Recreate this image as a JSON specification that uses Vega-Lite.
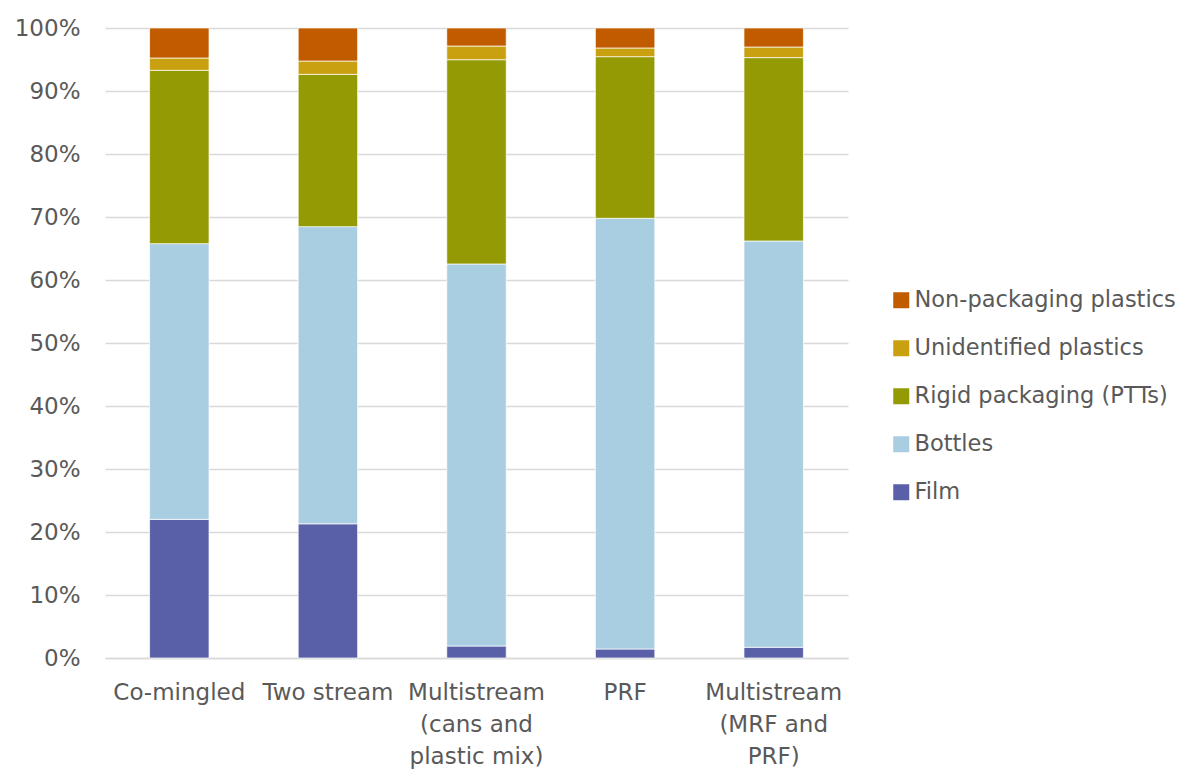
{
  "$schema": "https://vega.github.io/schema/vega-lite/v6.json",
  "width": 743,
  "height": 630,
  "autosize": {"type": "none"},
  "padding": {"left": 105, "top": 28, "right": 338, "bottom": 113},
  "background": "white",
  "config": {
    "view": {"stroke": null},
    "font": "DejaVu Sans",
    "axis": {"labelFont": "DejaVu Sans", "labelColor": "#595959", "labelFontSize": 23},
    "legend": {"labelFont": "DejaVu Sans"}
  },
  "data": {
    "values": [
      {"Facility": "Co-mingled", "Type": "Film", "Share": 0.220},
      {"Facility": "Co-mingled", "Type": "Bottles", "Share": 0.4377},
      {"Facility": "Co-mingled", "Type": "Rigid packaging (PTTs)", "Share": 0.2751},
      {"Facility": "Co-mingled", "Type": "Unidentified plastics", "Share": 0.0196},
      {"Facility": "Co-mingled", "Type": "Non-packaging plastics", "Share": 0.0476},
      {"Facility": "Two stream", "Type": "Film", "Share": 0.213},
      {"Facility": "Two stream", "Type": "Bottles", "Share": 0.4717},
      {"Facility": "Two stream", "Type": "Rigid packaging (PTTs)", "Share": 0.2417},
      {"Facility": "Two stream", "Type": "Unidentified plastics", "Share": 0.0212},
      {"Facility": "Two stream", "Type": "Non-packaging plastics", "Share": 0.0524},
      {"Facility": "Multistream (cans and plastic mix)", "Type": "Film", "Share": 0.019},
      {"Facility": "Multistream (cans and plastic mix)", "Type": "Bottles", "Share": 0.6064},
      {"Facility": "Multistream (cans and plastic mix)", "Type": "Rigid packaging (PTTs)", "Share": 0.3243},
      {"Facility": "Multistream (cans and plastic mix)", "Type": "Unidentified plastics", "Share": 0.0217},
      {"Facility": "Multistream (cans and plastic mix)", "Type": "Non-packaging plastics", "Share": 0.0286},
      {"Facility": "PRF", "Type": "Film", "Share": 0.0143},
      {"Facility": "PRF", "Type": "Bottles", "Share": 0.6836},
      {"Facility": "PRF", "Type": "Rigid packaging (PTTs)", "Share": 0.2566},
      {"Facility": "PRF", "Type": "Unidentified plastics", "Share": 0.0138},
      {"Facility": "PRF", "Type": "Non-packaging plastics", "Share": 0.0317},
      {"Facility": "Multistream (MRF and PRF)", "Type": "Film", "Share": 0.017},
      {"Facility": "Multistream (MRF and PRF)", "Type": "Bottles", "Share": 0.6449},
      {"Facility": "Multistream (MRF and PRF)", "Type": "Rigid packaging (PTTs)", "Share": 0.2911},
      {"Facility": "Multistream (MRF and PRF)", "Type": "Unidentified plastics", "Share": 0.0168},
      {"Facility": "Multistream (MRF and PRF)", "Type": "Non-packaging plastics", "Share": 0.0302}
    ]
  },
  "transform": [
    {"calculate": "indexof(['Film', 'Bottles', 'Rigid packaging (PTTs)', 'Unidentified plastics', 'Non-packaging plastics'], datum.Type)", "as": "StackOrder"}
  ],
  "mark": {"type": "bar", "stroke": "white", "strokeWidth": 0.7},
  "encoding": {
    "x": {
      "field": "Facility",
      "type": "nominal",
      "sort": ["Co-mingled", "Two stream", "Multistream (cans and plastic mix)", "PRF", "Multistream (MRF and PRF)"],
      "scale": {"paddingInner": 0.6, "paddingOuter": 0.3},
      "axis": {
        "title": null,
        "labelAngle": 0,
        "ticks": false,
        "domain": true,
        "domainColor": "#d9d9d9",
        "domainWidth": 1.5,
        "labelPadding": 23,
        "labelLineHeight": 32,
        "labelBaseline": "top",
        "labelExpr": "datum.value == 'Multistream (cans and plastic mix)' ? ['Multistream', '(cans and', 'plastic mix)'] : datum.value == 'Multistream (MRF and PRF)' ? ['Multistream', '(MRF and', 'PRF)'] : datum.value"
      }
    },
    "y": {
      "field": "Share",
      "type": "quantitative",
      "stack": "zero",
      "scale": {"domain": [0, 1], "nice": false},
      "axis": {
        "title": null,
        "format": ".0%",
        "values": [0, 0.1, 0.2, 0.3, 0.4, 0.5, 0.6, 0.7, 0.8, 0.9, 1],
        "ticks": false,
        "domain": false,
        "gridColor": "#d9d9d9",
        "gridWidth": 1.3,
        "labelPadding": 25
      }
    },
    "color": {
      "field": "Type",
      "type": "nominal",
      "scale": {
        "domain": ["Film", "Bottles", "Rigid packaging (PTTs)", "Unidentified plastics", "Non-packaging plastics"],
        "range": ["#5A60A8", "#A9CEE1", "#939A04", "#C8A010", "#C05B00"]
      },
      "legend": {
        "title": null,
        "orient": "none",
        "legendX": 785,
        "legendY": 261,
        "padding": 0,
        "values": ["Non-packaging plastics", "Unidentified plastics", "Rigid packaging (PTTs)", "Bottles", "Film"],
        "symbolType": "square",
        "symbolSize": 256,
        "symbolStrokeWidth": 0,
        "labelFontSize": 22.5,
        "labelColor": "#595959",
        "labelOffset": 2,
        "rowPadding": 25,
        "labelLimit": 400
      }
    },
    "order": {"field": "StackOrder", "type": "quantitative", "sort": "ascending"}
  }
}
